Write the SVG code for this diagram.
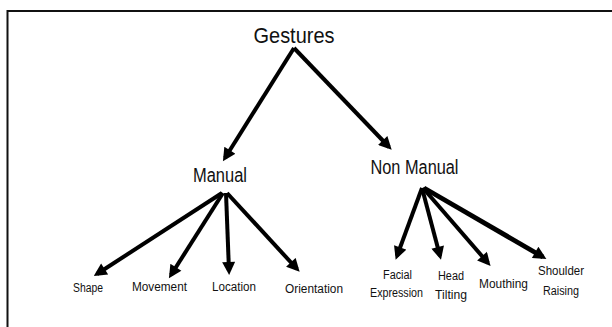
<svg xmlns="http://www.w3.org/2000/svg" width="612" height="327" viewBox="0 0 612 327">
<style>
text{font-family:"Liberation Sans",Arial,sans-serif;fill:#111;text-anchor:middle}
.big{font-size:22px}
.mid{font-size:20px}
.sm{font-size:12.5px}
.c{stroke:#000;stroke-width:4;fill:none;marker-end:url(#ah)}
</style>
<defs>
<marker id="ah" viewBox="0 0 10 10" refX="7" refY="5" markerUnits="userSpaceOnUse" markerWidth="15" markerHeight="13" orient="auto">
<path d="M0,0 L10,5 L0,10 z" fill="#000"/>
</marker>
</defs>
<rect width="612" height="327" fill="#fff"/>
<path d="M7.5,327 V11 H612" fill="none" stroke="#111" stroke-width="2"/>
<g id="connectors">
<line class="c" x1="294" y1="48" x2="225" y2="158"/>
<line class="c" x1="294" y1="48" x2="389" y2="147"/>
<line class="c" x1="222" y1="193" x2="97" y2="274"/>
<line class="c" x1="223" y1="193" x2="171" y2="275"/>
<line class="c" x1="226" y1="193" x2="229" y2="271"/>
<line class="c" x1="227" y1="193" x2="297" y2="269"/>
<line class="c" x1="422" y1="188" x2="397" y2="256"/>
<line class="c" x1="422" y1="188" x2="440" y2="256"/>
<line class="c" x1="423" y1="188" x2="488" y2="263"/>
<line class="c" x1="424" y1="188" x2="543" y2="257" style="stroke-width:4.8"/>
</g>
<g id="gestures"><text class="big" x="294" y="43" textLength="81" lengthAdjust="spacingAndGlyphs">Gestures</text></g>
<g id="manual"><text class="mid" x="220" y="182" textLength="54" lengthAdjust="spacingAndGlyphs">Manual</text></g>
<g id="nonmanual"><text class="mid" x="414.5" y="174" textLength="88" lengthAdjust="spacingAndGlyphs">Non Manual</text></g>
<g id="shape"><text class="sm" x="88" y="292" textLength="30" lengthAdjust="spacingAndGlyphs">Shape</text></g>
<g id="movement"><text class="sm" x="159.5" y="291" textLength="55" lengthAdjust="spacingAndGlyphs">Movement</text></g>
<g id="location"><text class="sm" x="234" y="291" textLength="44" lengthAdjust="spacingAndGlyphs">Location</text></g>
<g id="orientation"><text class="sm" x="314" y="293" textLength="58" lengthAdjust="spacingAndGlyphs">Orientation</text></g>
<g id="facial"><text class="sm" x="397.5" y="279" textLength="29" lengthAdjust="spacingAndGlyphs">Facial</text><text class="sm" x="396.5" y="297" textLength="53" lengthAdjust="spacingAndGlyphs">Expression</text></g>
<g id="head"><text class="sm" x="451" y="280" textLength="26" lengthAdjust="spacingAndGlyphs">Head</text><text class="sm" x="451" y="299" textLength="32" lengthAdjust="spacingAndGlyphs">Tilting</text></g>
<g id="mouthing"><text class="sm" x="503.5" y="288" textLength="49" lengthAdjust="spacingAndGlyphs">Mouthing</text></g>
<g id="shoulder"><text class="sm" x="561" y="275" textLength="46" lengthAdjust="spacingAndGlyphs">Shoulder</text><text class="sm" x="561" y="295" textLength="36" lengthAdjust="spacingAndGlyphs">Raising</text></g>
</svg>
